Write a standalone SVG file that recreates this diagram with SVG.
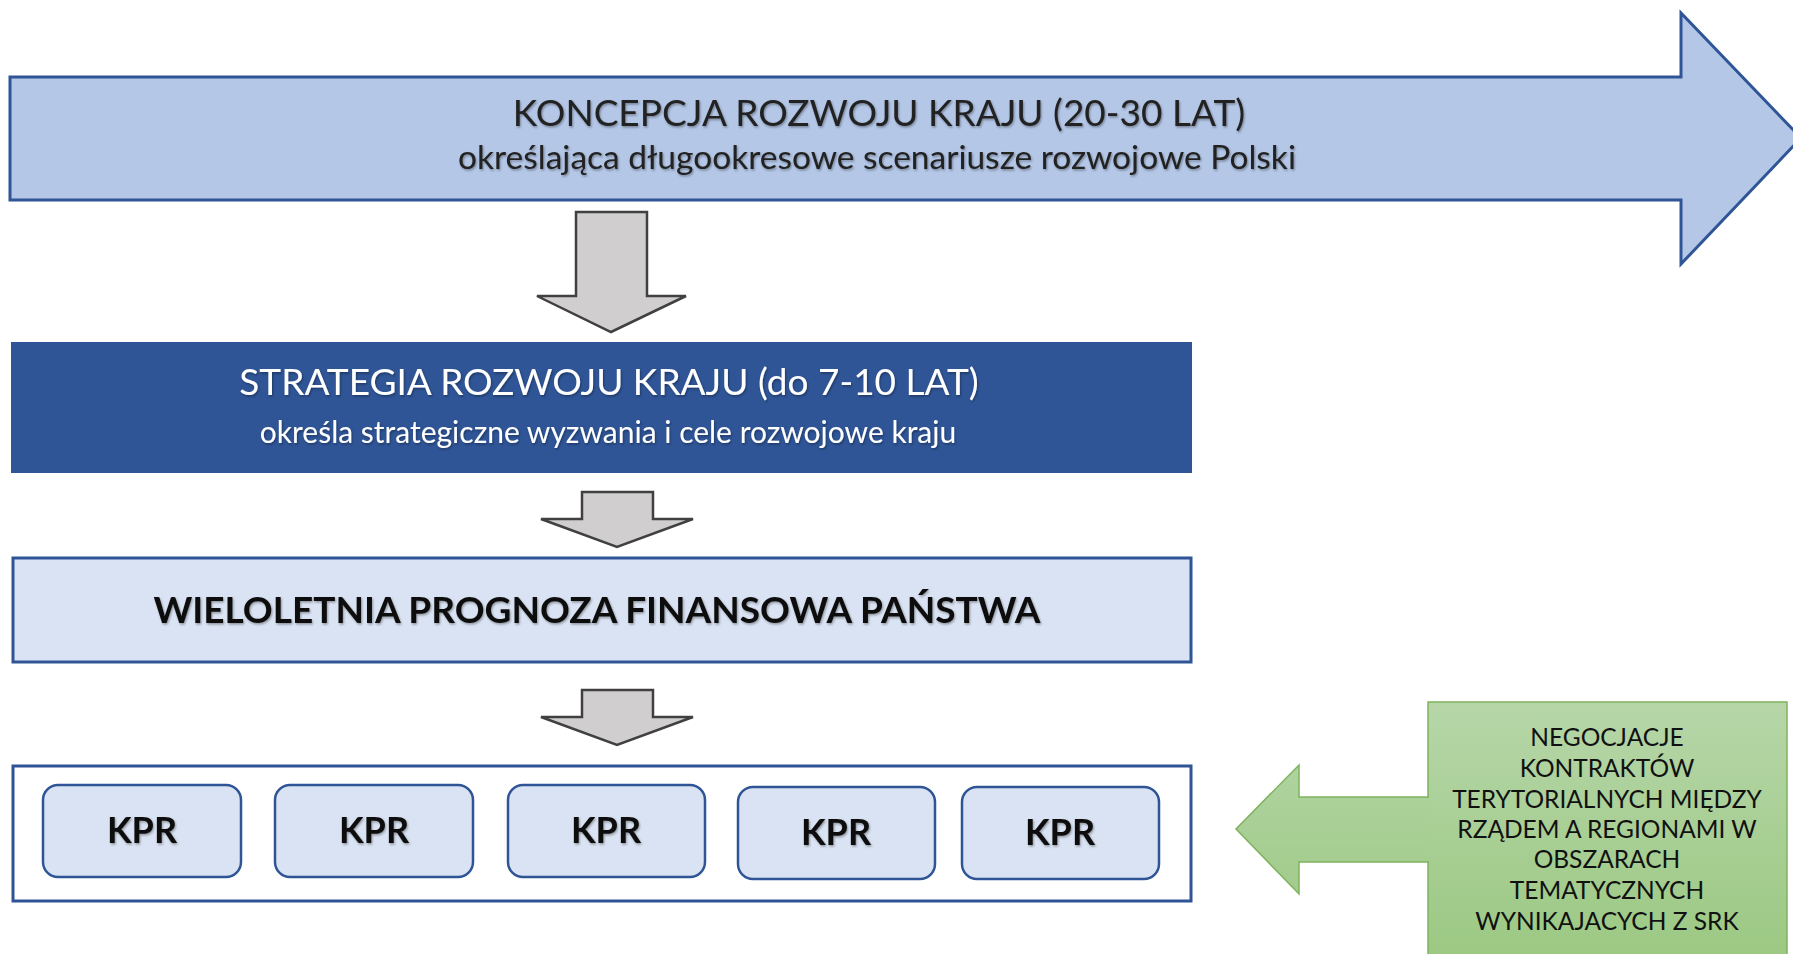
<svg xmlns="http://www.w3.org/2000/svg" width="1793" height="954" viewBox="0 0 1793 954">
<defs>
<linearGradient id="green" x1="0" y1="0" x2="0" y2="1">
<stop offset="0" stop-color="#b6d6a8"/>
<stop offset="1" stop-color="#9bc882"/>
</linearGradient>
<linearGradient id="greenArrow" gradientUnits="userSpaceOnUse" x1="0" y1="702" x2="0" y2="960">
<stop offset="0" stop-color="#b6d6a8"/>
<stop offset="1" stop-color="#9bc882"/>
</linearGradient>
<filter id="ts" x="-5%" y="-20%" width="110%" height="140%">
<feDropShadow dx="1" dy="1.5" stdDeviation="1" flood-color="#000" flood-opacity="0.35"/>
</filter>
</defs>
<style>
text{font-family:Lato,"Open Sans","Liberation Sans",sans-serif;text-anchor:middle}
.down{fill:#d0cece;stroke:#404040;stroke-width:2.5;stroke-linejoin:miter}
.kpr{fill:#dae3f3;stroke:#2f5597;stroke-width:2.5}
.kprt{font-weight:bold;font-size:36px;fill:#111}
.g{font-size:24.5px;fill:#111}
</style>
<rect width="1793" height="954" fill="#fff"/>

<g id="koncepcja">
<path d="M10,77 L1681,77 L1681,13 L1801,138 L1681,264 L1681,200 L10,200 Z" fill="#b4c7e7" stroke="#2f5597" stroke-width="3"/>
<text x="879" y="126" font-size="37" fill="#222" filter="url(#ts)">KONCEPCJA ROZWOJU KRAJU (20-30 LAT)</text>
<text x="877" y="169" font-size="33.5" fill="#222" filter="url(#ts)">określająca długookresowe scenariusze rozwojowe Polski</text>
</g>

<g id="strategia">
<rect x="11" y="342" width="1181" height="131" fill="#2f5597"/>
<text x="609" y="395" font-size="37" fill="#fff" filter="url(#ts)">STRATEGIA ROZWOJU KRAJU (do 7-10 LAT)</text>
<text x="608" y="443" font-size="30" fill="#fff" filter="url(#ts)">określa strategiczne wyzwania i cele rozwojowe kraju</text>
</g>

<g id="wpf">
<rect x="13" y="558" width="1178" height="104" fill="#dae3f3" stroke="#2f5597" stroke-width="3"/>
<text x="597" y="623" font-size="37" font-weight="bold" fill="#111" filter="url(#ts)">WIELOLETNIA PROGNOZA FINANSOWA PAŃSTWA</text>
</g>

<g id="kpr-container">
<rect x="13" y="766" width="1178" height="135" fill="#fff" stroke="#2f5597" stroke-width="3"/>
</g>
<g id="kpr1"><rect class="kpr" x="43" y="785" width="198" height="92" rx="15"/><text class="kprt" x="142" y="843" filter="url(#ts)">KPR</text></g>
<g id="kpr2"><rect class="kpr" x="275" y="785" width="198" height="92" rx="15"/><text class="kprt" x="374" y="843" filter="url(#ts)">KPR</text></g>
<g id="kpr3"><rect class="kpr" x="508" y="785" width="197" height="92" rx="15"/><text class="kprt" x="606" y="843" filter="url(#ts)">KPR</text></g>
<g id="kpr4"><rect class="kpr" x="738" y="787" width="197" height="92" rx="15"/><text class="kprt" x="836" y="845" filter="url(#ts)">KPR</text></g>
<g id="kpr5"><rect class="kpr" x="962" y="787" width="197" height="92" rx="15"/><text class="kprt" x="1060" y="845" filter="url(#ts)">KPR</text></g>

<g id="negocjacje">
<rect x="1428" y="702" width="359" height="262" fill="url(#green)" stroke="#7fb25f" stroke-width="1.5"/>
<text class="g" x="1607" y="746">NEGOCJACJE</text>
<text class="g" x="1607" y="777">KONTRAKTÓW</text>
<text class="g" x="1607" y="808">TERYTORIALNYCH MIĘDZY</text>
<text class="g" x="1607" y="838">RZĄDEM A REGIONAMI W</text>
<text class="g" x="1607" y="868">OBSZARACH</text>
<text class="g" x="1607" y="899">TEMATYCZNYCH</text>
<text class="g" x="1607" y="930">WYNIKAJACYCH Z SRK</text>
</g>

<g id="connectors">
<path class="down" d="M576,212 L647,212 L647,296 L686,296 L611,332 L537,296 L576,296 Z"/>
<path class="down" d="M582,492 L653,492 L653,519 L693,519 L617,547 L541,519 L582,519 Z"/>
<path class="down" d="M582,690 L653,690 L653,717 L693,717 L617,745 L541,717 L582,717 Z"/>
<path d="M1429,862 L1299,862 L1299,894 L1236,829 L1299,765 L1299,797 L1429,797" fill="url(#greenArrow)" stroke="#7fb25f" stroke-width="1.5"/>
</g>
</svg>
